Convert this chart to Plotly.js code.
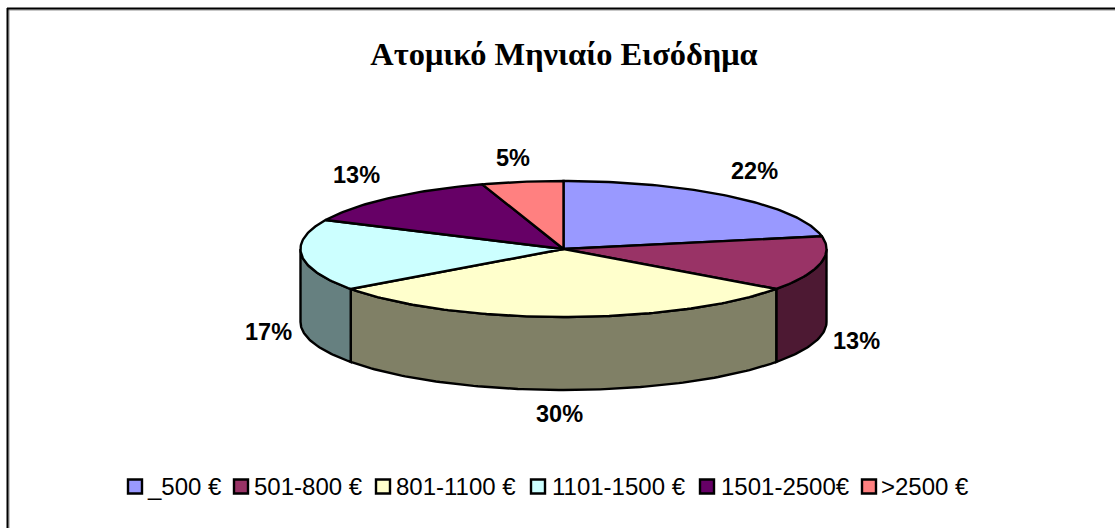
<!DOCTYPE html>
<html>
<head>
<meta charset="utf-8">
<script src="https://cdn.plot.ly/plotly-3.0.1.min.js"></script>
<style>
html, body { margin: 0; padding: 0; background: #fff; overflow: hidden; }
</style>
</head>
<body>
<div id="chart" style="width:1115px;height:528px;"></div>
<script>
const chartTitle = 'Ατομικό Μηνιαίο Εισόδημα';
const categories = ['_500 €', '501-800 €', '801-1100 €', '1101-1500 €', '1501-2500€', '>2500 €'];
const percents = [22, 13, 30, 17, 13, 5];

const topColors = ['#9999FF', '#993366', '#FFFFCC', '#CCFFFF', '#660066', '#FF8080'];
const sideColors = ['#4D4D80', '#4D1933', '#808066', '#668080', '#330033', '#804040'];

// pie geometry in page pixels, the axes below run 1:1 with the page
const pie = {cx: 563.5, cy: 249, rx: 263, ry: 68, depth: 73};

function rimPoint(deg, drop) {
    const a = deg * Math.PI / 180;
    return {
        x: pie.cx + pie.rx * Math.sin(a),
        y: pie.cy - pie.ry * Math.cos(a) + drop
    };
}

function arcPoints(from, to, drop) {
    const points = [];
    const steps = Math.max(2, Math.ceil(Math.abs(to - from)));
    for (let i = 0; i <= steps; i++) {
        points.push(rimPoint(from + (to - from) * i / steps, drop));
    }
    return points;
}

function polygonTrace(points, color) {
    return {
        x: points.map(p => p.x),
        y: points.map(p => p.y),
        type: 'scatter',
        mode: 'lines',
        fill: 'toself',
        fillcolor: color,
        line: {color: '#000000', width: 2.4},
        hoverinfo: 'skip',
        showlegend: false
    };
}

const sideTraces = [];
const topTraces = [];
const annotations = [];

// nudges for where the outside labels do not sit exactly on the rim offset
const labelNudge = [[0, 0], [0, -3], [-4, -9], [4, 0], [-9, 2], [-4, 9]];

let running = 0;
percents.forEach((value, i) => {
    const from = running * 3.6;
    const to = (running + value) * 3.6;
    running += value;

    // only the front half of the rim is visible
    const sideFrom = Math.max(from, 90);
    const sideTo = Math.min(to, 270);
    if (sideFrom < sideTo) {
        const upper = arcPoints(sideFrom, sideTo, 0);
        const lower = arcPoints(sideTo, sideFrom, pie.depth);
        sideTraces.push(polygonTrace(upper.concat(lower, [upper[0]]), sideColors[i]));
    }

    const centre = {x: pie.cx, y: pie.cy};
    topTraces.push(polygonTrace([centre].concat(arcPoints(from, to, 0), [centre]), topColors[i]));

    const mid = (from + to) / 2 * Math.PI / 180;
    const cosMid = Math.cos(mid);
    annotations.push({
        x: pie.cx + 300 * Math.sin(mid) + labelNudge[i][0],
        y: pie.cy - 101 * cosMid + (cosMid < 0 ? pie.depth : 0) + labelNudge[i][1],
        xref: 'x',
        yref: 'y',
        text: '<b>' + value + '%</b>',
        showarrow: false,
        font: {family: 'Liberation Sans, Arial, sans-serif', size: 23.5, color: '#000000'},
        xanchor: 'center',
        yanchor: 'middle'
    });
});

// legend row: swatch centres and where each text starts
const swatchX = [135, 241, 383, 538, 707, 869];
const legendTextX = [147, 254, 396, 552, 721, 881];
const legendY = 486.5;

categories.forEach((name, i) => {
    annotations.push({
        x: legendTextX[i],
        y: legendY,
        xref: 'x',
        yref: 'y',
        text: name,
        showarrow: false,
        font: {family: 'Liberation Sans, Arial, sans-serif', size: 24, color: '#000000'},
        xanchor: 'left',
        yanchor: 'middle',
        xshift: -2
    });
});

const legendSwatches = {
    x: swatchX,
    y: categories.map(() => legendY),
    type: 'scatter',
    mode: 'markers',
    marker: {
        symbol: 'square',
        size: 14,
        color: topColors,
        line: {color: '#000000', width: 2.4}
    },
    hoverinfo: 'skip',
    showlegend: false
};

const layout = {
    width: 1115,
    height: 528,
    margin: {l: 0, r: 0, t: 0, b: 0},
    paper_bgcolor: '#ffffff',
    plot_bgcolor: '#ffffff',
    title: {
        text: '<b>' + chartTitle + '</b>',
        font: {family: 'Liberation Serif, Times New Roman, serif', size: 32.4, color: '#000000'},
        x: 564 / 1115,
        xanchor: 'center',
        y: 1 - 54 / 528,
        yanchor: 'middle'
    },
    xaxis: {range: [0, 1115], visible: false, fixedrange: true},
    yaxis: {range: [528, 0], visible: false, fixedrange: true},
    showlegend: false,
    annotations: annotations,
    shapes: [
        {type: 'line', xref: 'x', yref: 'y', x0: 8, x1: 1115, y0: 10, y1: 10, line: {color: '#909090', width: 1}},
        {type: 'line', xref: 'x', yref: 'y', x0: 9, x1: 9, y0: 9, y1: 528, line: {color: '#909090', width: 1}},
        {type: 'line', xref: 'x', yref: 'y', x0: 7, x1: 1115, y0: 8.5, y1: 8.5, line: {color: '#000000', width: 2}},
        {type: 'line', xref: 'x', yref: 'y', x0: 7.5, x1: 7.5, y0: 8, y1: 528, line: {color: '#000000', width: 2}}
    ]
};

Plotly.newPlot('chart', sideTraces.concat(topTraces, [legendSwatches]), layout, {displayModeBar: false, staticPlot: true});
</script>
</body>
</html>
